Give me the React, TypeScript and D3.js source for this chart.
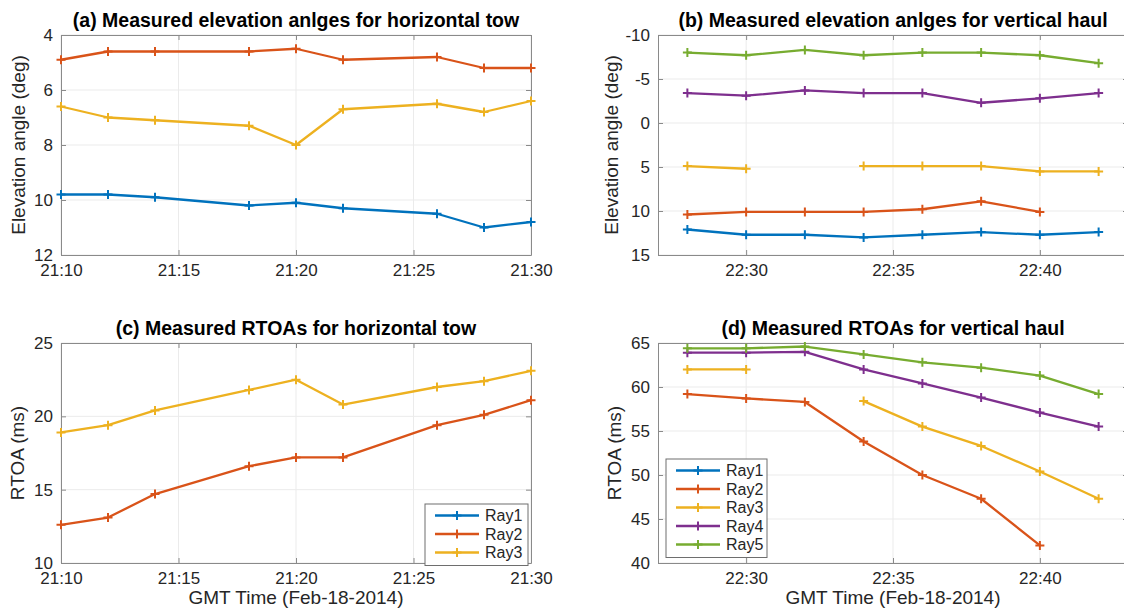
import React, { useEffect, useRef } from 'react';
import * as d3 from 'd3';

const parseTime = d3.timeParse('%H:%M');

// sample times
const towTimes = ['21:10', '21:12', '21:14', '21:18', '21:20', '21:22', '21:26', '21:28', '21:30'];
const haulTimes = ['22:28', '22:30', '22:32', '22:34', '22:36', '22:38', '22:40', '22:42'];

// (a) elevation angles, horizontal tow
const towElevRay1 = [9.8, 9.8, 9.9, 10.2, 10.1, 10.3, 10.5, 11.0, 10.8];
const towElevRay2 = [4.9, 4.6, 4.6, 4.6, 4.5, 4.9, 4.8, 5.2, 5.2];
const towElevRay3 = [6.6, 7.0, 7.1, 7.3, 8.0, 6.7, 6.5, 6.8, 6.4];

// (b) elevation angles, vertical haul
const haulElevRay1 = [12.1, 12.7, 12.7, 13.0, 12.7, 12.4, 12.7, 12.4];
const haulElevRay2 = [10.4, 10.1, 10.1, 10.1, 9.8, 8.9, 10.1, null];
const haulElevRay3 = [4.9, 5.2, null, 4.9, 4.9, 4.9, 5.5, 5.5];
const haulElevRay4 = [-3.4, -3.1, -3.7, -3.4, -3.4, -2.3, -2.8, -3.4];
const haulElevRay5 = [-8.0, -7.7, -8.3, -7.7, -8.0, -8.0, -7.7, -6.8];

// (c) RTOAs, horizontal tow
const towRtoaRay2 = [12.6, 13.1, 14.7, 16.6, 17.2, 17.2, 19.4, 20.1, 21.1];
const towRtoaRay3 = [18.9, 19.4, 20.4, 21.8, 22.5, 20.8, 22.0, 22.4, 23.1];

// (d) RTOAs, vertical haul
const haulRtoaRay2 = [59.2, 58.7, 58.3, 53.8, 50.0, 47.3, 42.0, null];
const haulRtoaRay3 = [62.0, 62.0, null, 58.4, 55.5, 53.3, 50.4, 47.3];
const haulRtoaRay4 = [63.9, 63.9, 64.0, 62.0, 60.4, 58.8, 57.1, 55.5];
const haulRtoaRay5 = [64.4, 64.4, 64.6, 63.7, 62.8, 62.2, 61.3, 59.2];

const rayNames = ['Ray1', 'Ray2', 'Ray3', 'Ray4', 'Ray5'];
const rayColors = ['#0072BD', '#D95319', '#EDB120', '#7E2F8E', '#77AC30'];

const FONT = "'Liberation Sans', Arial, Helvetica, sans-serif";
const AXIS = '#8a8a8a';
const GRID = '#ebebeb';
const TEXT = '#262626';
const W = 470;
const H = 220;

const panels = [
  {
    left: 61, top: 35, xStart: '21:10', xEnd: '21:30', yTop: 4, yBottom: 12,
    yTicks: [4, 6, 8, 10, 12], labelGap: 36,
    title: '(a) Measured elevation anlges for horizontal tow',
    yLabel: 'Elevation angle (deg)', xLabel: null, times: towTimes,
    series: [[0, towElevRay1], [1, towElevRay2], [2, towElevRay3]],
    legend: null,
  },
  {
    left: 658, top: 35, xStart: '22:27', xEnd: '22:43', yTop: -10, yBottom: 15,
    yTicks: [-10, -5, 0, 5, 10, 15], labelGap: 40,
    title: '(b) Measured elevation anlges for vertical haul',
    yLabel: 'Elevation angle (deg)', xLabel: null, times: haulTimes,
    series: [[0, haulElevRay1], [1, haulElevRay2], [2, haulElevRay3], [3, haulElevRay4], [4, haulElevRay5]],
    legend: null,
  },
  {
    left: 61, top: 343, xStart: '21:10', xEnd: '21:30', yTop: 25, yBottom: 10,
    yTicks: [10, 15, 20, 25], labelGap: 37,
    title: '(c) Measured RTOAs for horizontal tow',
    yLabel: 'RTOA (ms)', xLabel: 'GMT Time (Feb-18-2014)', times: towTimes,
    series: [[1, towRtoaRay2], [2, towRtoaRay3]],
    legend: { count: 3, x: 364, y: 161, w: 103 },
  },
  {
    left: 658, top: 343, xStart: '22:27', xEnd: '22:43', yTop: 65, yBottom: 40,
    yTicks: [40, 45, 50, 55, 60, 65], labelGap: 37,
    title: '(d) Measured RTOAs for vertical haul',
    yLabel: 'RTOA (ms)', xLabel: 'GMT Time (Feb-18-2014)', times: haulTimes,
    series: [[1, haulRtoaRay2], [2, haulRtoaRay3], [3, haulRtoaRay4], [4, haulRtoaRay5]],
    legend: { count: 5, x: 8, y: 116, w: 101 },
  },
];

function plusPath(cx, cy, r) {
  return `M${cx - r},${cy}h${2 * r}M${cx},${cy - r}v${2 * r}`;
}

function styleAxis(sel) {
  sel.select('.domain').attr('stroke', AXIS).attr('stroke-width', 1);
  sel.selectAll('.tick line').attr('stroke', AXIS);
  sel.selectAll('.tick text')
    .attr('fill', TEXT)
    .style('font-family', FONT)
    .style('font-size', '17px');
}

function drawPanel(svg, p) {
  const x = d3.scaleTime()
    .domain([parseTime(p.xStart), parseTime(p.xEnd)])
    .range([p.left, p.left + W]);
  const y = d3.scaleLinear()
    .domain([p.yTop, p.yBottom])
    .range([p.top, p.top + H]);
  const xTicks = x.ticks(d3.timeMinute.every(5));
  const g = svg.append('g');

  // grid
  g.append('g').selectAll('line').data(xTicks).join('line')
    .attr('x1', d => x(d)).attr('x2', d => x(d))
    .attr('y1', p.top).attr('y2', p.top + H)
    .attr('stroke', GRID);
  g.append('g').selectAll('line').data(p.yTicks).join('line')
    .attr('x1', p.left).attr('x2', p.left + W)
    .attr('y1', d => y(d)).attr('y2', d => y(d))
    .attr('stroke', GRID);

  // box axes, ticks pointing in
  g.append('g').attr('transform', `translate(0,${p.top + H})`)
    .call(d3.axisBottom(x).tickValues(xTicks).tickFormat(d3.timeFormat('%H:%M'))
      .tickSize(-5).tickSizeOuter(0).tickPadding(9))
    .call(styleAxis);
  g.append('g').attr('transform', `translate(0,${p.top})`)
    .call(d3.axisTop(x).tickValues(xTicks).tickFormat(() => '').tickSize(-5).tickSizeOuter(0))
    .call(styleAxis);
  g.append('g').attr('transform', `translate(${p.left},0)`)
    .call(d3.axisLeft(y).tickValues(p.yTicks).tickFormat(d => String(d))
      .tickSize(-5).tickSizeOuter(0).tickPadding(8))
    .call(styleAxis);
  g.append('g').attr('transform', `translate(${p.left + W},0)`)
    .call(d3.axisRight(y).tickValues(p.yTicks).tickFormat(() => '').tickSize(-5).tickSizeOuter(0))
    .call(styleAxis);

  // data
  const line = d3.line()
    .defined(d => d.v != null)
    .x(d => x(d.t))
    .y(d => y(d.v));
  p.series.forEach(([ray, values]) => {
    const pts = p.times.map((t, i) => ({ t: parseTime(t), v: values[i] }));
    g.append('path').datum(pts)
      .attr('d', line)
      .attr('fill', 'none')
      .attr('stroke', rayColors[ray])
      .attr('stroke-width', 2.3)
      .attr('stroke-linejoin', 'round');
    g.append('g').selectAll('path').data(pts.filter(d => d.v != null)).join('path')
      .attr('d', d => plusPath(x(d.t), y(d.v), 4.5))
      .attr('stroke', rayColors[ray])
      .attr('stroke-width', 2);
  });

  // title and labels
  g.append('text')
    .attr('x', p.left + W / 2).attr('y', p.top - 8)
    .attr('text-anchor', 'middle')
    .style('font-family', FONT).style('font-size', '19.5px').style('font-weight', 'bold')
    .text(p.title);
  g.append('text')
    .attr('transform', `translate(${p.left - p.labelGap},${p.top + H / 2}) rotate(-90)`)
    .attr('text-anchor', 'middle')
    .attr('fill', TEXT)
    .style('font-family', FONT).style('font-size', '19px')
    .text(p.yLabel);
  if (p.xLabel) {
    g.append('text')
      .attr('x', p.left + W / 2).attr('y', p.top + H + 41)
      .attr('text-anchor', 'middle')
      .attr('fill', TEXT)
      .style('font-family', FONT).style('font-size', '19px')
      .text(p.xLabel);
  }

  // legend
  if (p.legend) {
    const lg = p.legend;
    const lx = p.left + lg.x;
    const ly = p.top + lg.y;
    const rows = rayNames.slice(0, lg.count);
    const leg = g.append('g');
    leg.append('rect')
      .attr('x', lx).attr('y', ly)
      .attr('width', lg.w).attr('height', rows.length * 18.5 + 6)
      .attr('fill', '#fff').attr('stroke', '#6e6e6e');
    const row = leg.selectAll('g.row').data(rows).join('g')
      .attr('transform', (d, i) => `translate(${lx},${ly + 11.5 + i * 18.5})`);
    row.append('line')
      .attr('x1', 10).attr('x2', 54)
      .attr('stroke', (d, i) => rayColors[i]).attr('stroke-width', 2.3);
    row.append('path')
      .attr('d', plusPath(32, 0, 4.5))
      .attr('stroke', (d, i) => rayColors[i]).attr('stroke-width', 2);
    row.append('text')
      .attr('x', 60).attr('dy', '0.35em')
      .attr('fill', TEXT)
      .style('font-family', FONT).style('font-size', '16px')
      .text(d => d);
  }
}

export default function App() {
  const ref = useRef(null);

  useEffect(() => {
    const svg = d3.select(ref.current);
    svg.selectAll('*').remove();
    panels.forEach(p => drawPanel(svg, p));
  }, []);

  return (
    <svg
      ref={ref}
      width={1124}
      height={608}
      style={{ position: 'absolute', left: 0, top: 0, background: '#fff' }}
    />
  );
}
